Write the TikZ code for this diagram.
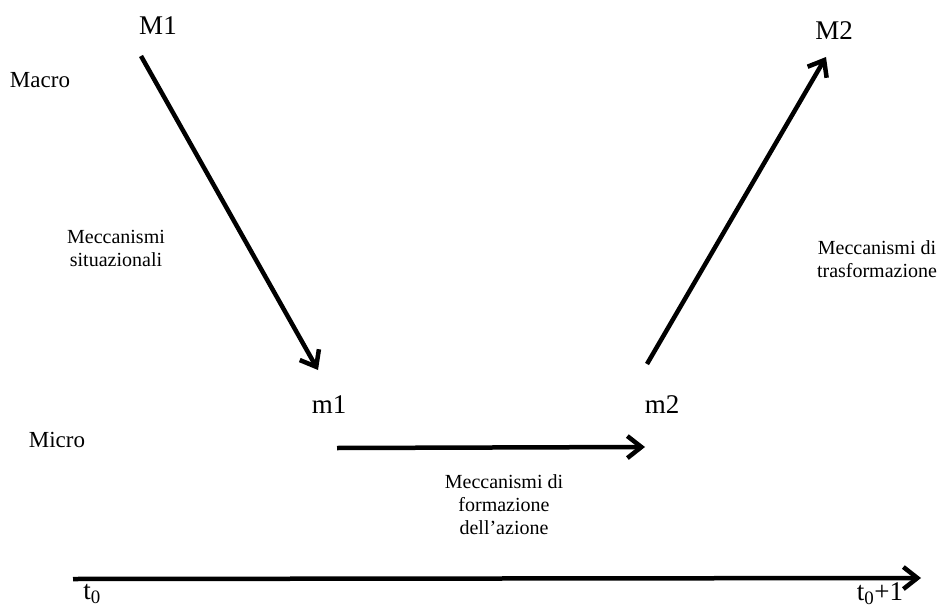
\documentclass[tikz,border=0pt]{standalone}
\usepackage{fontspec}
\setmainfont{Liberation Serif}
\usetikzlibrary{arrows.meta}
\tikzset{
  big/.style={font=\fontsize{27}{30}\selectfont, inner sep=0pt},
  level/.style={font=\fontsize{23}{26}\selectfont, inner sep=0pt},
  mech/.style={font=\fontsize{20}{23}\selectfont, align=center, inner sep=0pt},
  conn/.style={line width=4.5pt, -{Straight Barb[length=14pt,width=22pt,line width=4.5pt]}},
}
\begin{document}
\begin{tikzpicture}[x=1pt,y=-1pt]
\useasboundingbox (0,0) rectangle (945,610);
\node[big] (M1) at (158,26) {M1};
\node[big] (M2) at (834,31) {M2};
\node[big] (m1) at (329,405) {m1};
\node[big] (m2) at (662,405) {m2};
\node[level] (macro) at (40,80) {Macro};
\node[level] (micro) at (57,440) {Micro};
\node[mech] (sit) at (116,248) {Meccanismi\\situazionali};
\node[mech] (tra) at (877,259) {Meccanismi di\\trasformazione};
\node[mech] (form) at (504,505) {Meccanismi di\\formazione\\dell’azione};
\node[big] (t0) at (92,594) {t\textsubscript{0}};
\node[big] (t1) at (880,594) {t\textsubscript{0}+1};
\coordinate (a1s) at (141,56);
\coordinate (a1e) at (318,370);
\coordinate (a2s) at (337,448);
\coordinate (a2e) at (645,447);
\coordinate (a3s) at (647,364);
\coordinate (a3e) at (826,57);
\coordinate (a4s) at (73,579);
\coordinate (a4e) at (921,578);
\draw[conn] (a1s) -- (a1e);
\draw[conn] (a2s) -- (a2e);
\draw[conn] (a3s) -- (a3e);
\draw[conn] (a4s) -- (a4e);
\end{tikzpicture}
\end{document}
